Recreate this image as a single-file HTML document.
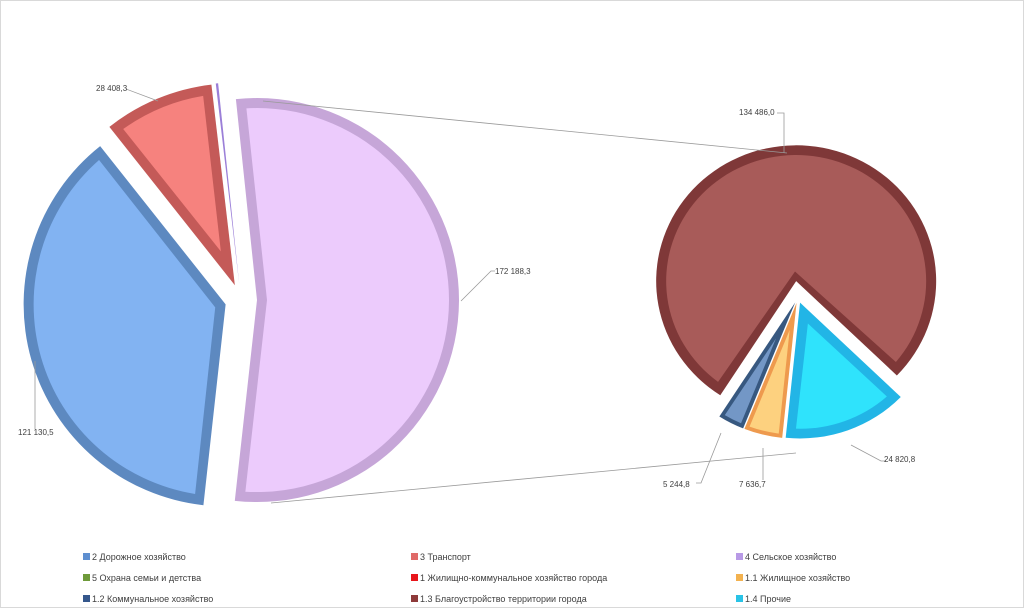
<!DOCTYPE html>
<html><head><meta charset="utf-8">
<style>
html,body{margin:0;padding:0;background:#fff}
#wrap{position:relative;width:1022px;height:606px;border:1px solid #d9d9d9;overflow:hidden;font-family:"Liberation Sans",sans-serif}
svg{position:absolute;left:0;top:0}
.lbl{font-size:8px;fill:#404040}
.leg{font-size:9px;fill:#404040}
</style></head>
<body>
<div id="wrap">
<svg id="chart" width="1024" height="608"></svg>
</div>
<script>
// main pie data
const mainCategories = ["Прочие (1.1–1.4)", "2 Дорожное хозяйство", "3 Транспорт", "4 Сельское хозяйство"];
const mainValues = [172188.3, 121130.5, 28408.3, 600];
const mainLabels = ["172 188,3", "121 130,5", "28 408,3", ""];
// secondary pie data
const subCategories = ["1.3 Благоустройство территории города", "1.4 Прочие", "1.1 Жилищное хозяйство", "1.2 Коммунальное хозяйство"];
const subValues = [134486.0, 24820.8, 7636.7, 5244.8];
const subLabels = ["134 486,0", "24 820,8", "7 636,7", "5 244,8"];
// legend
const legendNames = ["2 Дорожное хозяйство","3 Транспорт","4 Сельское хозяйство","5 Охрана семьи и детства","1 Жилищно-коммунальное  хозяйство города","1.1 Жилищное хозяйство","1.2 Коммунальное хозяйство","1.3 Благоустройство территории города","1.4 Прочие"];

const NS="http://www.w3.org/2000/svg";
const svg=document.getElementById('chart');
function mk(tag,attrs,parent){const e=document.createElementNS(NS,tag);for(const k in attrs)e.setAttribute(k,attrs[k]);(parent||svg).appendChild(e);return e;}
function pt(cx,cy,r,deg,sy){const a=(deg-90)*Math.PI/180;return [cx+r*Math.cos(a),cy+r*Math.sin(a)*(sy||1)];}
function wedge(cx,cy,r,a0,a1,sy){const p0=pt(cx,cy,r,a0,sy),p1=pt(cx,cy,r,a1,sy);const large=(a1-a0)>180?1:0;
 return `M${cx},${cy}L${p0[0]},${p0[1]}A${r},${r*(sy||1)} 0 ${large} 1 ${p1[0]},${p1[1]}Z`;}
function innerWedge(cx,cy,r,a0,a1,b,sy){
 const span=a1-a0,mid=a0+span/2;const half=Math.min(span/2,90)*Math.PI/180;
 let d=b/Math.max(Math.sin(half),0.01);d=Math.min(d,r*0.45);
 const t=pt(cx,cy,d,mid,sy);const db=b/r*180/Math.PI;
 const ri=r-b;const p0=pt(cx,cy,ri,a0+db,sy),p1=pt(cx,cy,ri,a1-db,sy);const large=(span-2*db)>180?1:0;
 return `M${t[0]},${t[1]}L${p0[0]},${p0[1]}A${ri},${ri*(sy||1)} 0 ${large} 1 ${p1[0]},${p1[1]}Z`;}

const mainColors=[["#c6a6d8","#eccbfc"],["#5d89c0","#82b3f2"],["#c45a58","#f6827e"],["#9b7fd8","#c7aef0"]];
const subColors=[["#7f3838","#a85b59"],["#22b5e6","#2fe3fc"],["#ee9a4e","#fdd17f"],["#375880","#7397c6"]];

function drawPie(values,colors,cx,cy,r,start,explode,names,sy,group){
 const total=values.reduce((a,b)=>a+b,0);let a=start;
 values.forEach((v,i)=>{const span=v/total*360;const mid=a+span/2;const ex=explode[i];
  const o=pt(0,0,ex,mid);const c=[cx+o[0],cy+o[1]];
  const g=mk('g',{},group);
  
  
  mk('path',{d:wedge(c[0],c[1],r,a,a+span,sy),fill:colors[i][0]},g);
  if(span>2){const b=span<25?4:10;
   mk('path',{d:innerWedge(c[0],c[1],r,a,a+span,b,sy),fill:colors[i][1]},g);}
  a+=span;});
}
const gMain=mk('g',{});
const gSub=mk('g',{});

// connector lines
const cl=mk('g',{stroke:'#9a9a9a','stroke-width':0.8});
mk('line',{x1:262,y1:100,x2:786,y2:152},cl);
mk('line',{x1:270,y1:502,x2:795,y2:452},cl);

drawPie(mainValues,mainColors,240,299,202,-6,[16,16,16,16],mainCategories,1,gMain);
const subTot=subValues.reduce((a,b)=>a+b,0);
const brownSpan=subValues[0]/subTot*360;
drawPie(subValues,subColors,797,296,140,134-brownSpan,[16,6,6,6],subCategories,0.97,gSub);

// labels with leaders
const gl=mk('g',{});
const leaders=[[[460,300],[490,270],[494,270]],[[34,360],[34,428]],[[157,100],[125,88]],null];
const lpos=[[494,273],[17,434],[95,90],null];
mainLabels.forEach((t,i)=>{if(!t)return;
 mk('polyline',{points:leaders[i].map(p=>p.join(',')).join(' '),fill:'none',stroke:'#9a9a9a','stroke-width':0.8},gl);
 const e=mk('text',{x:lpos[i][0],y:lpos[i][1],class:'lbl'},gl);e.textContent=t;
 });
const sLead=[[[783,152],[783,112],[776,112]],[[850,444],[880,460],[885,460]],[[762,447],[762,479]],[[720,432],[700,482],[695,482]]];
const sPos=[[738,114],[883,461],[738,486],[662,486]];
subLabels.forEach((t,i)=>{
 mk('polyline',{points:sLead[i].map(p=>p.join(',')).join(' '),fill:'none',stroke:'#9a9a9a','stroke-width':0.8},gl);
 const e=mk('text',{x:sPos[i][0],y:sPos[i][1],class:'lbl'},gl);e.textContent=t;
 });

// legend
const legColors=["#5e8fd0","#e06a68","#b89ae6","#6e9a3a","#e8161b","#f3b24f","#35578c","#8e3a3a","#29c3e6"];
const gLeg=mk('g',{});
legendNames.forEach((n,i)=>{const col=i%3,row=Math.floor(i/3);const x=[82,410,735][col],y=559+row*21;
 const g=mk('g',{},gLeg);
 mk('rect',{x:x,y:y-7,width:7,height:7,fill:legColors[i]},g);
 const t=mk('text',{x:x+9,y:y,class:'leg'},g);t.textContent=n;});
</script>
</body></html>
